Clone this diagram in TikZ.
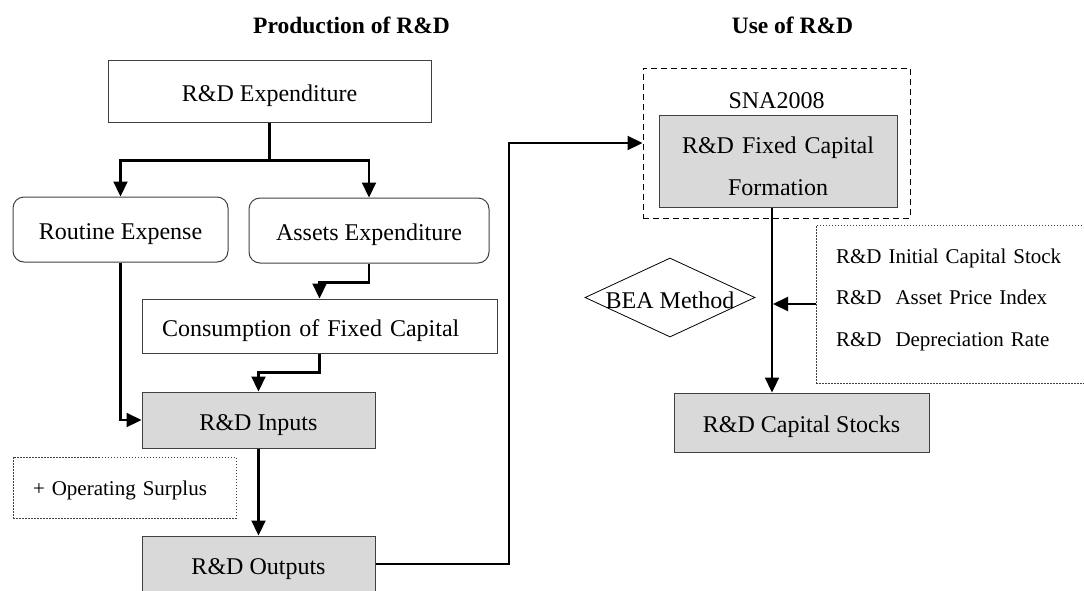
\documentclass[tikz,border=0pt]{standalone}
\usepackage{fontspec}
\setmainfont{Liberation Serif}
\usetikzlibrary{arrows.meta,shapes.geometric}
\newcommand\mainsz{\fontsize{24}{28}\selectfont}
\newcommand\twolinesz{\fontsize{24}{42}\selectfont}
\newcommand\smallsz{\fontsize{21}{41.5}\selectfont}
\newcommand\titlesz{\fontsize{23.5}{28}\selectfont\bfseries}
\definecolor{boxgray}{HTML}{D9D9D9}
\definecolor{edgegray}{HTML}{404040}
\begin{document}
\begin{tikzpicture}[x=1pt,y=-1pt,
  box/.style={draw=edgegray, line width=1pt, rectangle, inner sep=0pt, font=\mainsz, text height=20pt, text depth=0pt},
  grayfill/.style={box, fill=boxgray},
  roundbox/.style={box, rounded corners=11pt},
  ttl/.style={font=\titlesz, anchor=base, inner sep=0pt},
  conn/.style={line width=2.2pt, draw=black},
  arr/.style={conn, -{Triangle[length=15pt,width=14pt]}},
  dashbox/.style={draw=black, line width=1pt, dash pattern=on 6pt off 4pt, inner sep=0pt, rectangle},
  dotbox/.style={draw=black!75, line width=0.9pt, dash pattern=on 1.5pt off 1.5pt, inner sep=0pt, rectangle, font=\smallsz},
  dia/.style={diamond, draw=black, line width=0.8pt, inner sep=0pt, font=\mainsz, text height=21pt, text depth=0pt},
]
\useasboundingbox (0,0) rectangle (1084,590);

% titles
\node[ttl] (t1) at (351.5,33) {Production of R\&D};
\node[ttl] (t2) at (792.5,33) {Use of R\&D};

% production side
\node[box, minimum width=323pt, minimum height=62pt] (exp) at (269.5,91) {R\&D Expenditure};
\node[roundbox, minimum width=215pt, minimum height=65pt] (routine) at (120.5,229.5) {Routine Expense};
\node[roundbox, minimum width=240pt, minimum height=65pt] (assets) at (369,230.5) {Assets Expenditure};
\node[box, minimum width=355pt, minimum height=54pt, text width=315pt, align=left, inner xsep=20pt] (cons) at (319.5,326) {Consumption of Fixed Capital};
\node[grayfill, minimum width=233pt, minimum height=56pt] (inputs) at (258.5,420) {R\&D Inputs};
\node[dotbox, minimum width=223pt, minimum height=61pt, text width=183pt, align=left, inner xsep=20pt, text height=15pt, text depth=0pt] (surplus) at (124.5,487.5) {+ Operating Surplus};
\node[grayfill, minimum width=233pt, minimum height=56pt] (outputs) at (258.5,564) {R\&D Outputs};

% use side
\node[dashbox, minimum width=267pt, minimum height=150pt] (sna) at (776.5,143) {};
\node[font=\mainsz, anchor=base, inner sep=0pt] (snalbl) at (776.5,108) {SNA2008};
\node[grayfill, font=\twolinesz, minimum width=238pt, minimum height=92pt, text width=230pt, align=center, text height=16pt, text depth=32pt] (fcf) at (778,161) {R\&D Fixed Capital\\Formation};
\node[dia, minimum width=170pt, minimum height=79pt] (bea) at (670,297.5) {\makebox[0pt]{BEA Method}};
\node[dotbox, minimum width=279pt, minimum height=158pt, text width=239pt, align=left, inner xsep=20pt, text height=15pt, text depth=97pt] (params) at (955.5,304) {R\&D Initial Capital Stock\\R\&D\ \ Asset Price Index\\R\&D\ \ Depreciation Rate};
\node[grayfill, minimum width=255pt, minimum height=59pt] (stocks) at (801.5,422.5) {R\&D Capital Stocks};

% connectors
\path (exp.south) ++(0,38) coordinate (split);
\draw[conn] (exp.south) -- (split);
\draw[arr] (split) -| (routine.north);
\draw[arr] (split) -| (assets.north);
\draw[arr] (assets.south) -- ++(0,19) -| (cons.north);
\draw[arr] (cons.south) -- ++(0,19) -| (inputs.north);
\draw[arr] (routine.south) |- (inputs.west);
\draw[arr] (inputs.south) -- (outputs.north);
\coordinate (jog) at (509,143);
\draw[arr] (outputs.east) -| (jog) -- (sna.west);
\coordinate (vx) at (772,0);
\draw[arr] (vx |- fcf.south) -- (vx |- stocks.north);
\draw[arr] (params.west) -- ([xshift=1pt]vx |- params.west);
\end{tikzpicture}
\end{document}
